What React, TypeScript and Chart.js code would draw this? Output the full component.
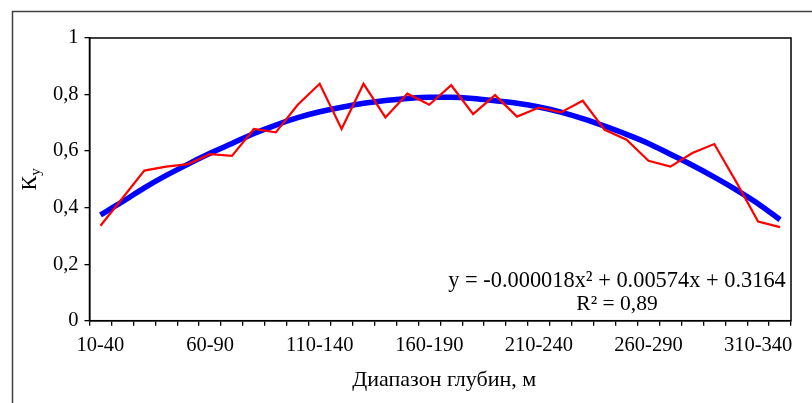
import React, { useEffect, useRef } from "react";
import { Chart, registerables } from "chart.js";

Chart.register(...registerables);

const categories = [
  "10-40", "20-50", "30-60", "40-70", "50-80", "60-90", "70-100", "80-110",
  "90-120", "100-130", "110-140", "120-150", "130-160", "140-170", "150-180", "160-190",
  "170-200", "180-210", "190-220", "200-230", "210-240", "220-250", "230-260", "240-270",
  "250-280", "260-290", "270-300", "280-310", "290-320", "300-330", "310-340", "320-350",
];

const kyValues = [
  0.336, 0.433, 0.531, 0.545, 0.554, 0.589, 0.583, 0.678,
  0.666, 0.764, 0.838, 0.678, 0.838, 0.719, 0.803, 0.764,
  0.833, 0.731, 0.798, 0.722, 0.754, 0.737, 0.778, 0.675,
  0.640, 0.566, 0.545, 0.593, 0.625, 0.491, 0.351, 0.331,
];

const trendValues = [
  0.374, 0.421, 0.470, 0.514, 0.554, 0.592, 0.627, 0.662,
  0.692, 0.718, 0.739, 0.755, 0.769, 0.779, 0.786, 0.790,
  0.790, 0.786, 0.778, 0.769, 0.756, 0.738, 0.715, 0.688,
  0.659, 0.627, 0.589, 0.550, 0.508, 0.463, 0.414, 0.357,
];

const yTickValues = [0, 0.2, 0.4, 0.6, 0.8, 1];
const yTickLabels = ["0", "0,2", "0,4", "0,6", "0,8", "1"];
const labelEvery = 5;
const xTitle = "Диапазон глубин, м";
const yTitleMain = "К";
const yTitleSub = "у";
const equationText = "y = -0.000018x² + 0.00574x + 0.3164";
const r2Text = "R² = 0,89";

const FONT = '"Liberation Serif", "Times New Roman", serif';

const decorPlugin = {
  id: "decor",
  afterDraw(chart: any) {
    const { ctx, chartArea: a } = chart;
    ctx.save();
    // outer chart frame
    ctx.strokeStyle = "#404040";
    ctx.lineWidth = 1.5;
    ctx.beginPath();
    ctx.moveTo(12.5, 403);
    ctx.lineTo(12.5, 11.5);
    ctx.lineTo(812, 11.5);
    ctx.stroke();
    // plot area frame
    ctx.strokeStyle = "#000";
    ctx.lineWidth = 1.5;
    ctx.strokeRect(a.left, a.top, a.right - a.left, a.bottom - a.top);

    ctx.fillStyle = "#000";
    // x title
    ctx.font = `22px ${FONT}`;
    ctx.textAlign = "center";
    ctx.textBaseline = "middle";
    ctx.fillText(xTitle, (a.left + a.right) / 2 + 4, a.bottom + 60);

    // equation + R²
    const eqX = a.right - 174;
    ctx.font = `22.4px ${FONT}`;
    ctx.fillText(equationText, eqX, a.bottom - 40);
    ctx.font = `21.5px ${FONT}`;
    ctx.fillText(r2Text, eqX, a.bottom - 16);

    // y title rotated
    ctx.save();
    ctx.translate(30, (a.top + a.bottom) / 2);
    ctx.rotate(-Math.PI / 2);
    ctx.font = `22px ${FONT}`;
    const w1 = ctx.measureText(yTitleMain).width;
    ctx.font = `15px ${FONT}`;
    const w2 = ctx.measureText(yTitleSub).width;
    const start = -(w1 + w2) / 2;
    ctx.textAlign = "left";
    ctx.textBaseline = "middle";
    ctx.font = `22px ${FONT}`;
    ctx.fillText(yTitleMain, start, 0);
    ctx.font = `15px ${FONT}`;
    ctx.fillText(yTitleSub, start + w1, 6);
    ctx.restore();

    ctx.restore();
  },
};

export default function App() {
  const ref = useRef<HTMLCanvasElement | null>(null);

  useEffect(() => {
    document.body.style.margin = "0";
    const canvas = ref.current;
    if (!canvas) return;
    const chart = new Chart(canvas, {
      type: "line",
      data: {
        labels: categories,
        datasets: [
          {
            label: "Ку",
            data: kyValues,
            borderColor: "#ff0000",
            borderWidth: 2.2,
            pointRadius: 0,
            tension: 0,
            fill: false,
          },
          {
            label: "Тренд",
            data: trendValues,
            borderColor: "#0000ff",
            borderWidth: 5.5,
            pointRadius: 0,
            tension: 0.4,
            cubicInterpolationMode: "monotone",
            fill: false,
          },
        ],
      },
      options: {
        responsive: false,
        animation: false,
        layout: { padding: { left: 0, right: 21, top: 38, bottom: 0 } },
        plugins: {
          legend: { display: false },
          tooltip: { enabled: false },
          title: { display: false },
        },
        scales: {
          x: {
            type: "category",
            offset: true,
            grid: {
              offset: true,
              drawOnChartArea: false,
              drawTicks: true,
              tickLength: 5,
              color: "#000",
              lineWidth: 1.3,
            },
            border: { display: true, color: "#000", width: 1.5 },
            ticks: {
              autoSkip: false,
              maxRotation: 0,
              minRotation: 0,
              padding: 8,
              color: "#000",
              font: { family: FONT, size: 20.5 },
              callback: (_v: any, i: number) => (i % labelEvery === 0 ? categories[i] : ""),
            },
            afterFit: (scale: any) => {
              scale.height = 82.3;
            },
          },
          y: {
            min: 0,
            max: 1,
            afterBuildTicks: (scale: any) => {
              scale.ticks = yTickValues.map((v) => ({ value: v }));
            },
            grid: {
              drawOnChartArea: false,
              drawTicks: true,
              tickLength: 5,
              color: "#000",
              lineWidth: 1.3,
            },
            border: { display: true, color: "#000", width: 1.5 },
            ticks: {
              padding: 6,
              color: "#000",
              font: { family: FONT, size: 20.5 },
              callback: (v: any) => {
                const idx = yTickValues.findIndex((t) => Math.abs(t - Number(v)) < 1e-9);
                return idx >= 0 ? yTickLabels[idx] : "";
              },
            },
            afterFit: (scale: any) => {
              scale.width = 89.5;
            },
          },
        },
      },
      plugins: [decorPlugin],
    });
    return () => chart.destroy();
  }, []);

  return (
    <div style={{ position: "fixed", left: 0, top: 0, width: 812, height: 403, background: "#fff" }}>
      <canvas ref={ref} width={812} height={403} style={{ display: "block" }} />
    </div>
  );
}
